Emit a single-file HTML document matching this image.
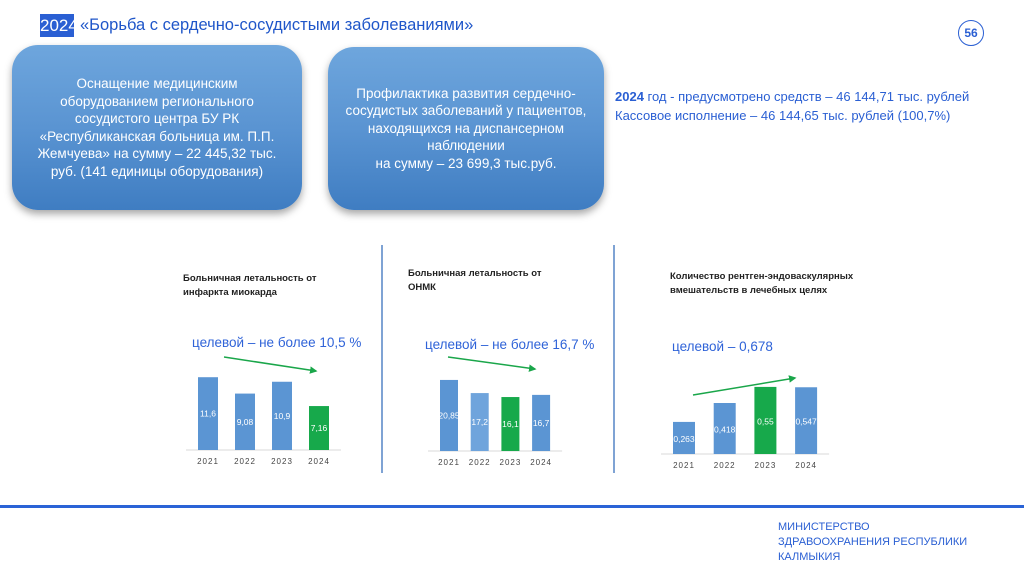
<!DOCTYPE html>
<html><head><meta charset="utf-8">
<style>
html,body{margin:0;padding:0;}
body{width:1024px;height:574px;background:#fff;position:relative;overflow:hidden;font-family:"Liberation Sans","Noto Sans CJK SC",sans-serif;}
.abs{position:absolute;}
.box{position:absolute;border-radius:26px;background:linear-gradient(180deg,#6ea6dd 0%,#5a94d2 50%,#3f7dc2 100%);box-shadow:0 4px 8px rgba(0,0,0,0.35);color:#fff;text-align:center;display:flex;align-items:center;justify-content:center;font-size:13.5px;line-height:17.5px;font-family:"Liberation Sans Narrow","Liberation Sans",sans-serif;}
.ctitle{position:absolute;font-size:9.5px;font-weight:bold;color:#222;line-height:14px;}
.target{position:absolute;font-size:13.5px;color:#2f63d8;}
</style></head><body>
<div class="abs" style="left:40px;top:14px;width:34px;height:23px;background:#2a5fd3;color:#fff;font-size:17px;line-height:23px;text-align:center;font-family:'Liberation Sans Narrow','Liberation Sans',sans-serif;">2024</div>
<div class="abs" style="left:80px;top:14px;font-size:16.5px;line-height:23px;color:#1f56c9;font-family:'Liberation Sans Narrow','Liberation Sans',sans-serif;">«Борьба с сердечно-сосудистыми заболеваниями»</div>
<div class="abs" style="left:958px;top:20px;width:24px;height:24px;border:1.5px solid #2a5fd3;border-radius:50%;color:#2a5fd3;font-size:12px;font-weight:bold;line-height:24px;text-align:center;">56</div>

<div class="box" style="left:12px;top:45px;width:290px;height:165px;"><div>Оснащение медицинским<br>оборудованием регионального<br>сосудистого центра БУ РК<br>«Республиканская больница им. П.П.<br>Жемчуева» на сумму – 22 445,32 тыс.<br>руб. (141 единицы оборудования)</div></div>
<div class="box" style="left:328px;top:47px;width:276px;height:163px;"><div>Профилактика развития сердечно-<br>сосудистых заболеваний у пациентов,<br>находящихся на диспансерном<br>наблюдении<br>на сумму – 23 699,3 тыс.руб.</div></div>

<div class="abs" style="left:615px;top:87px;font-size:13px;line-height:19px;color:#2a5fd3;font-family:'Liberation Sans Narrow','Liberation Sans',sans-serif;"><b>2024</b> год - предусмотрено средств – 46 144,71 тыс. рублей<br>Кассовое исполнение – 46 144,65 тыс. рублей (100,7%)</div>

<div class="abs" style="left:381px;top:245px;width:2px;height:228px;background:#7fa3d4;"></div>
<div class="abs" style="left:613px;top:245px;width:2px;height:228px;background:#7fa3d4;"></div>

<div class="ctitle" style="left:183px;top:272px;">Больничная летальность от<br>инфаркта миокарда</div>
<div class="ctitle" style="left:408px;top:267px;">Больничная летальность от<br>ОНМК</div>
<div class="ctitle" style="left:670px;top:270px;">Количество рентген-эндоваскулярных<br>вмешательств в лечебных целях</div>

<div class="target" style="left:192px;top:335px;">целевой – не более 10,5 %</div>
<div class="target" style="left:425px;top:337px;">целевой – не более 16,7 %</div>
<div class="target" style="left:672px;top:339px;">целевой – 0,678</div>

<svg class="abs" style="left:0;top:0;" width="1024" height="574" id="svg">
<defs><marker id="ah" viewBox="0 0 10 10" refX="8" refY="5" markerWidth="5" markerHeight="5" orient="auto"><path d="M0,0L10,5L0,10z" fill="#1aa64a"/></marker></defs>
<line x1="224" y1="357" x2="316" y2="371" stroke="#1aa64a" stroke-width="1.5" marker-end="url(#ah)"/>
<line x1="448" y1="357" x2="535" y2="369" stroke="#1aa64a" stroke-width="1.5" marker-end="url(#ah)"/>
<line x1="693" y1="395" x2="795" y2="378" stroke="#1aa64a" stroke-width="1.5" marker-end="url(#ah)"/>
</svg>

<div class="abs" style="left:0;top:505px;width:1024px;height:3px;background:#2a63d6;"></div>
<div class="abs" style="left:778px;top:520px;font-size:11px;line-height:15px;color:#2a5fd3;">МИНИСТЕРСТВО<br>ЗДРАВООХРАНЕНИЯ РЕСПУБЛИКИ<br>КАЛМЫКИЯ</div>

<script>
const years = ["2021","2022","2023","2024"];
const mortalityMI = [11.6, 9.08, 10.9, 7.16];
const mortalityMILabels = ["11,6","9,08","10,9","7,16"];
const mortalityStroke = [20.85, 17.2, 16.1, 16.7];
const mortalityStrokeLabels = ["20,85","17,2","16,1","16,7"];
const interventions = [0.263, 0.418, 0.55, 0.547];
const interventionsLabels = ["0,263","0,418","0,55","0,547"];
const colorsMI = ["#5b95d3","#5b95d3","#5b95d3","#17a94b"];
const colorsStroke = ["#5b95d3","#6fa4dc","#17a94b","#5b95d3"];
const colorsInt = ["#5b95d3","#5b95d3","#17a94b","#5b95d3"];

const NS = "http://www.w3.org/2000/svg";
const svg = document.getElementById("svg");
function mk(tag, attrs){const e=document.createElementNS(NS,tag);for(const k in attrs)e.setAttribute(k,attrs[k]);svg.appendChild(e);return e;}

function drawChart(id, vals, labels, colors, cfg){
  const yScale = v => cfg.base - (cfg.a + cfg.b*v);
  const xScale = i => cfg.x0 + i*cfg.step;
  const ax = mk("line",{x1:cfg.x0-12,x2:xScale(3)+cfg.w+12,y1:cfg.base,y2:cfg.base,stroke:"#d9d9d9","stroke-width":1});
  
  
  vals.forEach((v,i)=>{
    const top = yScale(v);
    const r = mk("rect",{x:xScale(i),y:top,width:cfg.w,height:cfg.base-top,fill:colors[i]});
    
    
    const t = mk("text",{x:xScale(i)+cfg.w/2,y:(top+cfg.base)/2+cfg.lo,"text-anchor":"middle","font-size":"8.5",fill:"#fff","font-family":"Liberation Sans, sans-serif"});
    t.textContent = labels[i];
    
    
    const yl = mk("text",{x:xScale(i)+cfg.w/2,y:cfg.base+14,"text-anchor":"middle","font-size":"8",fill:"#444","letter-spacing":"1","font-family":"Liberation Sans Narrow, Liberation Sans, sans-serif"});
    yl.textContent = years[i];
    
    
  });
}
drawChart("chart1", mortalityMI, mortalityMILabels, colorsMI, {x0:198,step:37,w:20,base:450,a:-2.6,b:6.5,lo:3});
drawChart("chart2", mortalityStroke, mortalityStrokeLabels, colorsStroke, {x0:440,step:30.7,w:18,base:451,a:-4,b:3.6,lo:3});
drawChart("chart3", interventions, interventionsLabels, colorsInt, {x0:673,step:40.7,w:22,base:454,a:0,b:122,lo:4});
</script>
</body></html>
